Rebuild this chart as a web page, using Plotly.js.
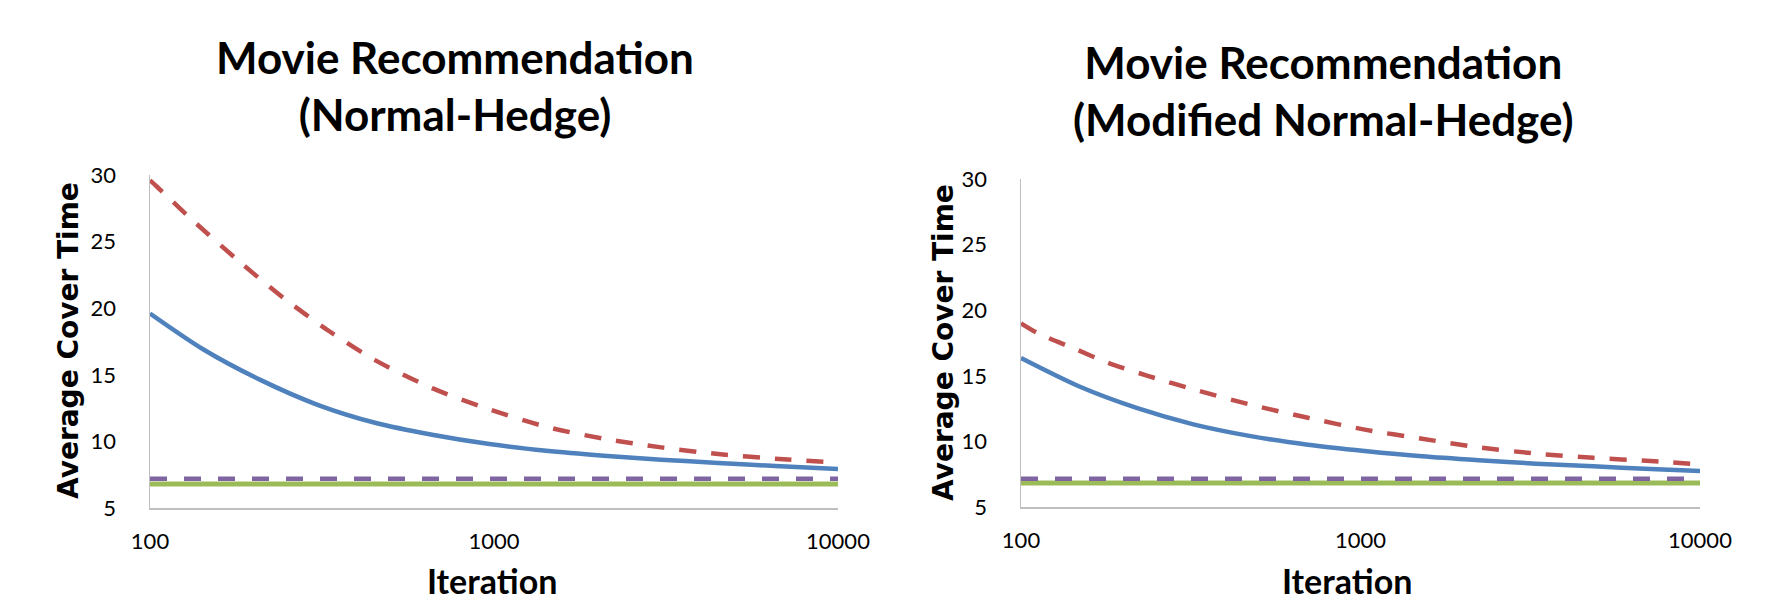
<!DOCTYPE html>
<html>
<head>
<meta charset="utf-8">
<script src="https://cdn.plot.ly/plotly-3.0.1.min.js"></script>
<style>html,body{margin:0;padding:0;background:#fff;}#chart{width:1773px;height:603px;}</style>
</head>
<body>
<div id="chart"></div>
<script>
// ---- Data ----
const titles = ["Movie Recommendation<br>(Normal-Hedge)", "Movie Recommendation<br>(Modified Normal-Hedge)"];
const xTickVals = [100, 1000, 10000];
const xTickText = ["100", "1000", "10000"];
const yTickVals = [5, 10, 15, 20, 25, 30];
const xTitle = "Iteration";
const yTitle = "Average Cover Time";

// Left chart (Normal-Hedge)
const leftRedX   = [100, 105, 133, 180, 245, 333, 451, 661, 970, 1418, 2085, 3063, 4484, 6576, 10000];
const leftRedY   = [29.6, 29.1, 26.6, 23.6, 20.75, 18.25, 16.1, 14.0, 12.4, 11.1, 10.2, 9.55, 9.05, 8.7, 8.4];
const leftBlueX  = [100, 143, 210, 307, 451, 661, 970, 1418, 2085, 3063, 4484, 6576, 10000];
const leftBlueY  = [19.6, 16.9, 14.6, 12.75, 11.4, 10.5, 9.8, 9.3, 8.93, 8.63, 8.38, 8.15, 7.92];
const leftPurpleX = [100, 10000];
const leftPurpleY = [7.2, 7.2];
const leftGreenX = [100, 10000];
const leftGreenY = [6.8, 6.8];

// Right chart (Modified Normal-Hedge)
const rightRedX  = [100, 113, 143, 180, 236, 334, 475, 700, 1029, 1518, 2233, 3290, 4850, 7150, 10000];
const rightRedY  = [19.0, 18.2, 17.1, 16.0, 15.0, 13.85, 12.8, 11.8, 10.9, 10.2, 9.55, 9.07, 8.75, 8.5, 8.25];
const rightBlueX = [100, 148, 219, 322, 475, 700, 1029, 1518, 2233, 3290, 4850, 7150, 10000];
const rightBlueY = [16.35, 14.2, 12.55, 11.3, 10.4, 9.75, 9.27, 8.86, 8.56, 8.3, 8.1, 7.9, 7.75];
const rightPurpleX = [100, 10000];
const rightPurpleY = [7.16, 7.16];
const rightGreenX = [100, 10000];
const rightGreenY = [6.83, 6.83];

// ---- Styles ----
const RED = "#C0504D", BLUE = "#4F81BD", PURPLE = "#8064A2", GREEN = "#9BBB59";
const AXIS = "#BFBFBF";

function series(x, y, color, dash, width, xa, ya) {
  return {x: x, y: y, type: "scatter", mode: "lines", xaxis: xa, yaxis: ya,
    line: {color: color, width: width, dash: dash, shape: "spline", smoothing: 0.8},
    hoverinfo: "skip"};
}

const traces = [
  series(leftGreenX, leftGreenY, GREEN, "solid", 5, "x", "y"),
  series(leftPurpleX, leftPurpleY, PURPLE, "17px,17px", 4.5, "x", "y"),
  series(leftBlueX, leftBlueY, BLUE, "solid", 4.5, "x", "y"),
  series(leftRedX, leftRedY, RED, "17px,15px", 4.5, "x", "y"),
  series(rightGreenX, rightGreenY, GREEN, "solid", 5, "x2", "y2"),
  series(rightPurpleX, rightPurpleY, PURPLE, "17px,17px", 4.5, "x2", "y2"),
  series(rightBlueX, rightBlueY, BLUE, "solid", 4.5, "x2", "y2"),
  series(rightRedX, rightRedY, RED, "17px,15px", 4.5, "x2", "y2")
];

const tickFont = {family: "Lato, 'Open Sans', sans-serif", size: 22, color: "#000"};

function xAxis(domain, anchor) {
  return {domain: domain, anchor: anchor, type: "log", range: [2, 4],
    tickvals: xTickVals, ticktext: xTickText, tickfont: tickFont,
    showline: true, linecolor: AXIS, linewidth: 1.5, showgrid: false, zeroline: false,
    ticks: "", ticklabelstandoff: 13, fixedrange: true};
}
function yAxis(domain, anchor) {
  return {domain: domain, anchor: anchor, range: [5, 30], tickvals: yTickVals,
    tickfont: tickFont, showline: true, linecolor: AXIS, linewidth: 1.5,
    showgrid: false, zeroline: false, ticks: "", ticklabelstandoff: 28, fixedrange: true};
}

const W = 1773, H = 603;
const titleFont = {family: "Lato, 'Open Sans', sans-serif", size: 44, color: "#000", weight: "bold"};
const xTitleFont = {family: "Lato, 'Open Sans', sans-serif", size: 34, color: "#000", weight: "bold"};
const yTitleFont = {family: "'DejaVu Sans', Verdana, sans-serif", size: 28, color: "#000", weight: "bold"};

const annotations = [
  {text: "<b>" + titles[0] + "</b>", x: 455 / W, y: (H - 85) / H, xref: "paper", yref: "paper",
   xanchor: "center", yanchor: "middle", showarrow: false, font: titleFont},
  {text: "<b>" + titles[1] + "</b>", x: 1323 / W, y: (H - 91) / H, xref: "paper", yref: "paper",
   xanchor: "center", yanchor: "middle", showarrow: false, font: titleFont},
  {text: "<b>" + xTitle + "</b>", x: 492 / W, y: 0, xref: "paper", yref: "paper",
   xanchor: "center", yanchor: "bottom", showarrow: false, font: xTitleFont},
  {text: "<b>" + xTitle + "</b>", x: 1347 / W, y: 0, xref: "paper", yref: "paper",
   xanchor: "center", yanchor: "bottom", showarrow: false, font: xTitleFont},
  {text: "<b>" + yTitle + "</b>", x: 68 / W, y: (H - 341) / H, xref: "paper", yref: "paper",
   xanchor: "center", yanchor: "middle", textangle: -90, showarrow: false, font: yTitleFont},
  {text: "<b>" + yTitle + "</b>", x: 943 / W, y: (H - 343) / H, xref: "paper", yref: "paper",
   xanchor: "center", yanchor: "middle", textangle: -90, showarrow: false, font: yTitleFont}
];

const layout = {
  width: W, height: H,
  margin: {l: 0, r: 0, t: 0, b: 0},
  paper_bgcolor: "#fff", plot_bgcolor: "#fff",
  showlegend: false,
  xaxis: xAxis([150 / W, 838 / W], "y"),
  yaxis: yAxis([(H - 508) / H, (H - 175) / H], "x"),
  xaxis2: xAxis([1021 / W, 1700 / W], "y2"),
  yaxis2: yAxis([(H - 507) / H, (H - 179) / H], "x2"),
  annotations: annotations
};

Plotly.newPlot("chart", traces, layout, {staticPlot: true, displayModeBar: false});
</script>
</body>
</html>
